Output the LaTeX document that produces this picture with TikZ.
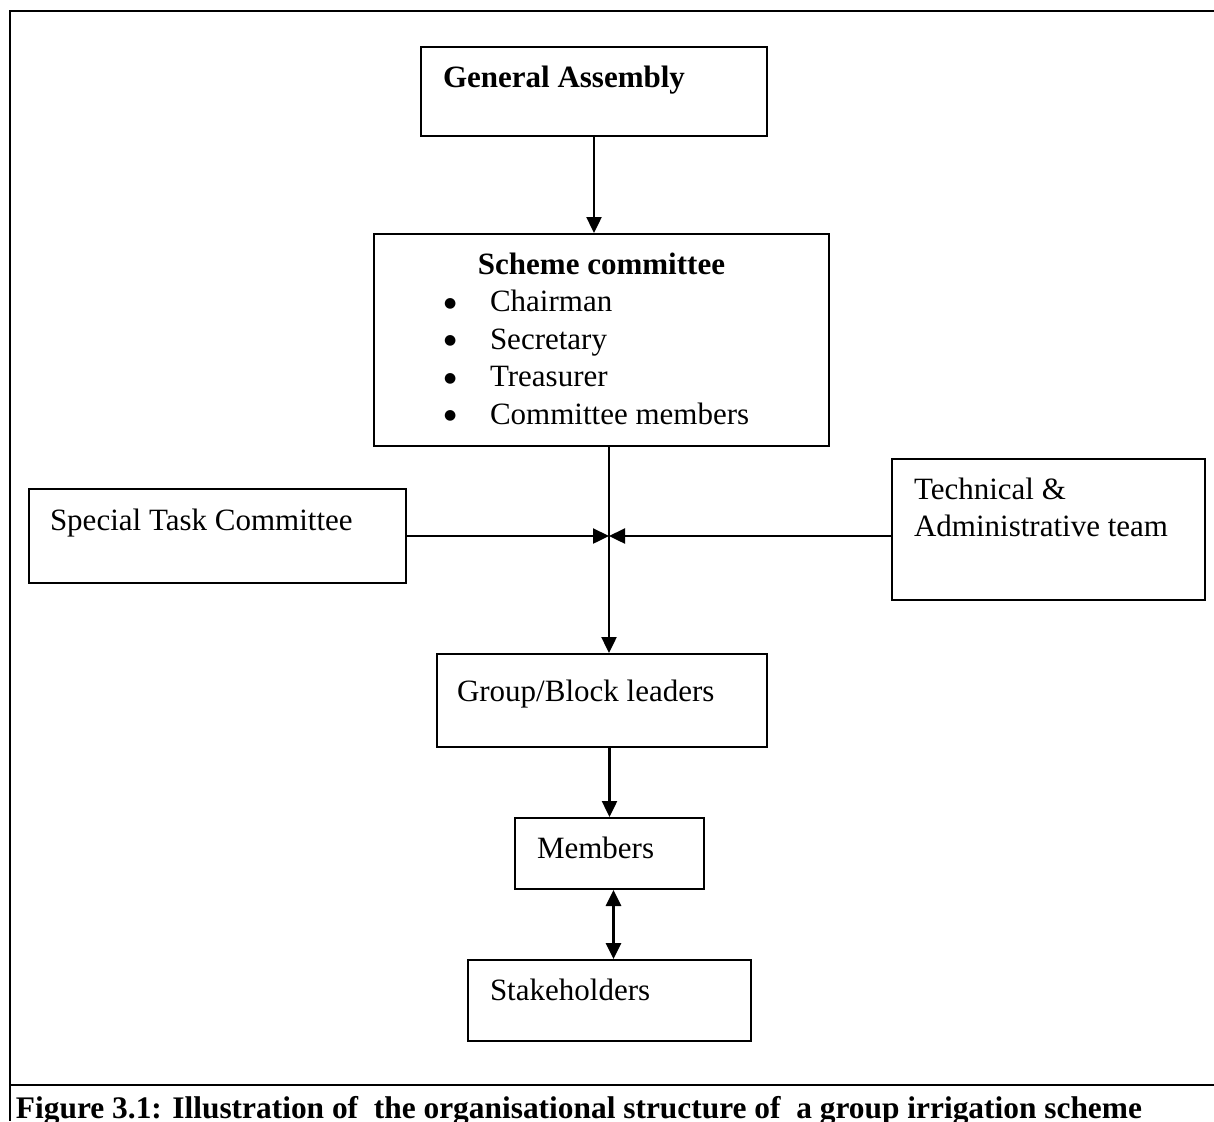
\documentclass[tikz,border=0pt]{standalone}
\usepackage{fontspec}
\setmainfont{Liberation Serif}
\newfontfamily\dotfont{DejaVu Sans}
\usetikzlibrary{arrows.meta}

\tikzset{every picture/.style={line width=1pt}}
\tikzset{
  orgbox/.style={draw, rectangle, inner sep=0pt, line width=1pt},
  boxtxt/.style={anchor=base west, inner sep=0pt, font=\fontsize{15.5}{17.8}\selectfont},
  flow/.style={line width=1.2pt, -{Triangle[length=8pt,width=7.5pt]}},
  flowboth/.style={line width=1.5pt, {Triangle[length=8pt,width=7.5pt]}-{Triangle[length=8pt,width=7.5pt]}},
  frameline/.style={line width=1.25pt}
}
\newcommand{\bigdot}{\raisebox{2.2pt}{\dotfont\fontsize{7}{7}\selectfont ●}}

\begin{document}
\begin{tikzpicture}[x=0.5pt,y=0.5pt,yscale=-1,xscale=1]
\useasboundingbox (0,0) rectangle (1214,1121);

%Frame
\draw[frameline] (1214,11) -- (10,11) -- (10,1121);
\draw[frameline] (10,1085) -- (1214,1085);

%Boxes
\node[orgbox, minimum width=173pt, minimum height=44.5pt] (ga) at (594,91.5) {};
\node[orgbox, minimum width=227.5pt, minimum height=106pt] (sc) at (601.5,340) {};
\node[orgbox, minimum width=188.5pt, minimum height=47pt] (stc) at (217.5,536) {};
\node[orgbox, minimum width=156.5pt, minimum height=70.5pt] (tat) at (1048.5,529.5) {};
\node[orgbox, minimum width=165pt, minimum height=46.5pt] (grp) at (602,700.5) {};
\node[orgbox, minimum width=94.5pt, minimum height=35.5pt] (mem) at (609.5,853.5) {};
\node[orgbox, minimum width=141.5pt, minimum height=40.5pt] (stk) at (609.5,1000.5) {};
\coordinate (hub) at (609,536);

% Text Node
\node[boxtxt, font=\fontsize{15.5}{17.8}\selectfont\bfseries] (ga-t) at (442,87) {General Assembly};
\node[boxtxt, anchor=base, font=\fontsize{15.5}{17.8}\selectfont\bfseries] (sc-t) at (601.5,274) {Scheme committee};
\foreach \who [count=\i] in {Chairman, Secretary, Treasurer, Committee members}
  \node[boxtxt] (item-\i) at (443,274+37.5*\i) {\makebox[23pt][l]{\bigdot}\who};
\node[boxtxt] (stc-t) at (49,530) {Special Task Committee};
\node[boxtxt] (tat-t1) at (913,499) {Technical \&};
\node[boxtxt] (tat-t2) at (913,536) {Administrative team};
\node[boxtxt] (grp-t) at (456,701) {Group/Block leaders};
\node[boxtxt] (mem-t) at (536,858) {Members};
\node[boxtxt] (stk-t) at (489,1000) {Stakeholders};
\node[boxtxt, font=\fontsize{15.7}{18}\selectfont\bfseries] (cap) at (15,1118)
  {Figure 3.1: Illustration of\ \ the organisational structure of\ \ a group irrigation scheme};

%Arrows
\draw[flow] (ga.south) -- (ga.south |- sc.north);
\draw[flow] (sc.south -| hub) -- (grp.north -| hub);
\draw[flow] (stc.east |- hub) -- (hub);
\draw[flow] (tat.west |- hub) -- (hub);
\draw[flow] (grp.south -| mem.north) -- (mem.north);
\draw[flowboth] ([xshift=2pt]mem.south) -- ([xshift=2pt]stk.north);

\end{tikzpicture}
\end{document}
